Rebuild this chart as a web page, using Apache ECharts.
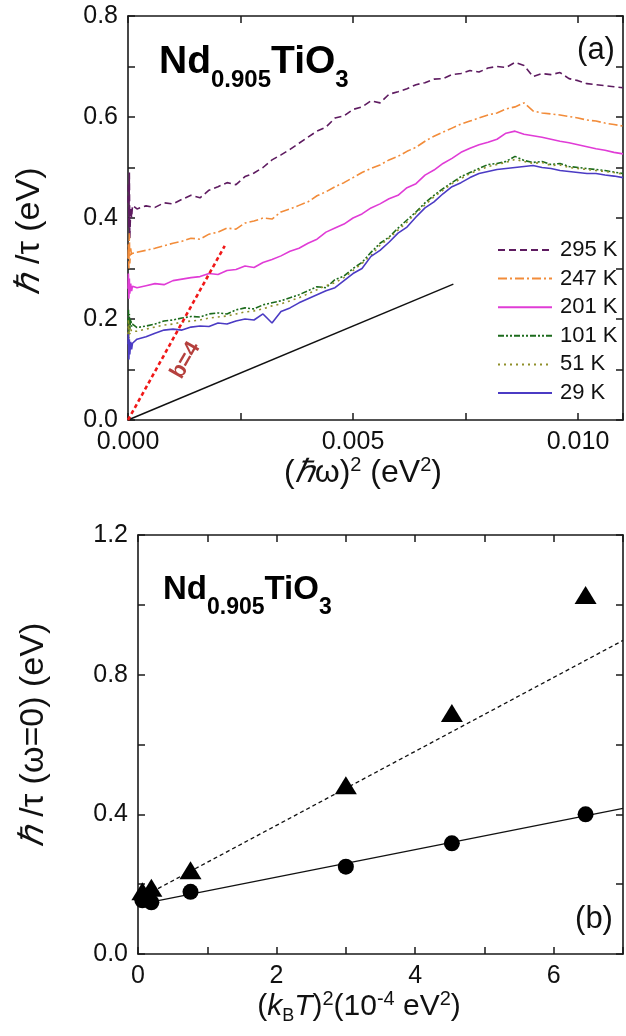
<!DOCTYPE html>
<html>
<head>
<meta charset="utf-8">
<script src="https://cdn.jsdelivr.net/npm/echarts@6/dist/echarts.min.js"></script>
<style>
html, body { margin: 0; padding: 0; background: #fff; }
#chart { width: 626px; height: 1036px; }
</style>
</head>
<body>
<div id="chart"></div>
<script>
// ---- panel (a): scattering rate vs (hbar*omega)^2 ----
const omega2 = [
    0, 0.00001, 0.00002, 0.00003, 0.00004, 0.00006, 0.00008, 0.0001,
    0.0002, 0.0004, 0.0006, 0.0008, 0.0010, 0.0012, 0.0014, 0.0016, 0.0018, 0.0020,
    0.0022, 0.0024, 0.0026, 0.0028, 0.0030, 0.0032, 0.0034, 0.0036, 0.0038, 0.0040,
    0.0042, 0.0044, 0.0046, 0.0048, 0.0050, 0.0052, 0.0054, 0.0056, 0.0058, 0.0060,
    0.0062, 0.0064, 0.0066, 0.0068, 0.0070, 0.0072, 0.0074, 0.0076, 0.0078, 0.0080,
    0.0082, 0.0084, 0.0086, 0.0088, 0.0090, 0.0092, 0.0094, 0.0096, 0.0098, 0.0100,
    0.0102, 0.0104, 0.0106, 0.0108, 0.0110
];

const rate295 = [
    0.43, 0.47, 0.38, 0.49, 0.36, 0.42, 0.40, 0.425,
    0.418, 0.424, 0.421, 0.430, 0.428, 0.437, 0.445, 0.440, 0.455, 0.462,
    0.470, 0.466, 0.482, 0.489, 0.500, 0.515, 0.525, 0.536, 0.548, 0.560,
    0.572, 0.580, 0.598, 0.602, 0.615, 0.620, 0.632, 0.628, 0.645, 0.650,
    0.656, 0.664, 0.668, 0.675, 0.676, 0.684, 0.686, 0.692, 0.689, 0.697,
    0.700, 0.698, 0.708, 0.702, 0.680, 0.686, 0.684, 0.688, 0.676, 0.672,
    0.666, 0.664, 0.662, 0.660, 0.658
];
const rate247 = [
    0.32, 0.35, 0.30, 0.37, 0.31, 0.34, 0.325, 0.33,
    0.332, 0.336, 0.340, 0.345, 0.350, 0.354, 0.360, 0.358, 0.368, 0.372,
    0.380, 0.378, 0.390, 0.394, 0.400, 0.398, 0.412, 0.418, 0.425, 0.432,
    0.444, 0.452, 0.462, 0.470, 0.480, 0.490, 0.498, 0.505, 0.515, 0.522,
    0.532, 0.540, 0.552, 0.562, 0.570, 0.578, 0.586, 0.592, 0.598, 0.604,
    0.608, 0.616, 0.620, 0.628, 0.612, 0.608, 0.606, 0.604, 0.601, 0.598,
    0.594, 0.592, 0.588, 0.585, 0.582
];
const rate201 = [
    0.26, 0.29, 0.24, 0.28, 0.25, 0.27, 0.255, 0.265,
    0.262, 0.266, 0.270, 0.268, 0.276, 0.279, 0.282, 0.284, 0.290, 0.288,
    0.296, 0.298, 0.305, 0.302, 0.312, 0.318, 0.325, 0.334, 0.340, 0.350,
    0.358, 0.372, 0.380, 0.388, 0.400, 0.408, 0.420, 0.428, 0.438, 0.445,
    0.460, 0.468, 0.485, 0.495, 0.508, 0.518, 0.530, 0.538, 0.545, 0.550,
    0.556, 0.568, 0.572, 0.566, 0.563, 0.560, 0.556, 0.552, 0.549, 0.545,
    0.541, 0.537, 0.534, 0.530, 0.527
];
const rate101 = [
    0.19, 0.22, 0.17, 0.21, 0.18, 0.20, 0.185, 0.19,
    0.183, 0.186, 0.190, 0.196, 0.198, 0.202, 0.205, 0.204, 0.210, 0.212,
    0.210, 0.218, 0.222, 0.220, 0.228, 0.232, 0.236, 0.242, 0.248, 0.256,
    0.264, 0.262, 0.278, 0.285, 0.300, 0.312, 0.332, 0.350, 0.362, 0.380,
    0.396, 0.412, 0.430, 0.445, 0.458, 0.470, 0.482, 0.490, 0.498, 0.506,
    0.508, 0.512, 0.522, 0.514, 0.510, 0.512, 0.506, 0.508, 0.502, 0.500,
    0.498, 0.496, 0.494, 0.491, 0.488
];
const rate51 = [
    0.17, 0.20, 0.16, 0.19, 0.17, 0.18, 0.175, 0.178,
    0.176, 0.180, 0.184, 0.188, 0.190, 0.194, 0.196, 0.198, 0.202, 0.204,
    0.206, 0.210, 0.214, 0.216, 0.220, 0.226, 0.230, 0.236, 0.242, 0.250,
    0.258, 0.266, 0.272, 0.282, 0.296, 0.310, 0.326, 0.346, 0.360, 0.376,
    0.392, 0.410, 0.426, 0.442, 0.455, 0.468, 0.478, 0.488, 0.495, 0.502,
    0.506, 0.510, 0.516, 0.512, 0.508, 0.510, 0.504, 0.505, 0.500, 0.498,
    0.496, 0.494, 0.492, 0.490, 0.487
];
const rate29 = [
    0.15, 0.17, 0.12, 0.16, 0.13, 0.155, 0.14, 0.152,
    0.160, 0.165, 0.172, 0.178, 0.180, 0.178, 0.184, 0.186, 0.185, 0.192,
    0.190, 0.196, 0.200, 0.198, 0.210, 0.192, 0.215, 0.222, 0.232, 0.240,
    0.248, 0.256, 0.262, 0.276, 0.290, 0.300, 0.324, 0.336, 0.352, 0.370,
    0.382, 0.402, 0.420, 0.432, 0.448, 0.462, 0.470, 0.480, 0.488, 0.492,
    0.496, 0.498, 0.500, 0.502, 0.504, 0.500, 0.498, 0.494, 0.492, 0.490,
    0.488, 0.488, 0.485, 0.483, 0.480
];

const tempNames = ['295 K', '247 K', '201 K', '101 K', '51 K', '29 K'];
const tempColors = ['#5e1b60', '#f28c3a', '#e03cd6', '#1c6b1c', '#8f8f2a', '#4b3bc4'];
const tempDashes = [[7, 4], [9, 3, 2, 3], 'solid', [6, 2, 2, 2, 2, 2], [2, 4], 'solid'];
const tempRates = [rate295, rate247, rate201, rate101, rate51, rate29];

const squareLawLine = [[0, 0], [0.00723, 0.269]];
const b4Line = [[0, 0], [0.00215, 0.345]];
const b4LabelAt = [[0.00128, 0.118]];

// ---- panel (b): zero-frequency rate vs (kB T)^2 ----
const kT2 = [0.063, 0.193, 0.758, 3.0, 4.53, 6.46];
const rateTriangles = [0.18, 0.19, 0.24, 0.483, 0.69, 1.028];
const rateCircles = [0.154, 0.148, 0.178, 0.25, 0.317, 0.40];
const fitTriangles = [[0.2, 0.178], [7.0, 0.898]];
const fitCircles = [[0.2, 0.149], [7.0, 0.417]];

const FONT = '"Liberation Sans", Arial, sans-serif';
const AXIS_COLOR = '#1a1a1a';

function isMultiple(v, step) {
    const r = v / step;
    return Math.abs(r - Math.round(r)) < 1e-6;
}

function mkAxis(gridIndex, position, min, max, interval, labelStep, digits, showLabel) {
    return {
        type: 'value',
        gridIndex: gridIndex,
        position: position,
        min: min,
        max: max,
        interval: interval,
        axisLine: { show: true, onZero: false, lineStyle: { color: AXIS_COLOR, width: 1.6 } },
        axisTick: { show: true, inside: true, length: 7, lineStyle: { color: AXIS_COLOR, width: 1.5 } },
        axisLabel: {
            show: showLabel,
            fontSize: 25,
            fontFamily: FONT,
            color: '#111',
            margin: 10,
            formatter: v => isMultiple(v, labelStep) ? v.toFixed(digits) : ''
        },
        splitLine: { show: false }
    };
}

const tempSeries = tempNames.map((name, k) => ({
    name: name,
    type: 'line',
    xAxisIndex: 0,
    yAxisIndex: 0,
    data: omega2.map((x, i) => [x, tempRates[k][i]]),
    symbol: 'none',
    lineStyle: { color: tempColors[k], width: 1.6, type: tempDashes[k] },
    itemStyle: { color: tempColors[k] },
    z: 3 + (k === 5 ? 1 : 0)
}));

const supStyle = { fontSize: 20, lineHeight: 20, verticalAlign: 'top', fontFamily: FONT, fill: '#111' };
const subStyle = { fontSize: 18, lineHeight: 18, verticalAlign: 'bottom', fontFamily: FONT, fill: '#111' };

function formulaText(x, y, mainSize, subSize) {
    return {
        type: 'text',
        x: x,
        y: y,
        style: {
            text: '{m|Nd}{s|0.905}{m|TiO}{s|3}',
            align: 'left',
            verticalAlign: 'top',
            rich: {
                m: { fontSize: mainSize, fontWeight: 'bold', fontFamily: FONT, lineHeight: 59, fill: '#000' },
                s: { fontSize: subSize, fontWeight: 'bold', fontFamily: FONT, lineHeight: subSize, verticalAlign: 'bottom', fill: '#000' }
            }
        }
    };
}

function axisTitle(x, y, text, size, rotated) {
    return {
        type: 'text',
        x: x,
        y: y,
        rotation: rotated ? Math.PI / 2 : 0,
        style: {
            text: text,
            fontSize: size,
            fontFamily: FONT,
            fill: '#111',
            lineHeight: 36,
            align: 'center',
            verticalAlign: 'middle',
            rich: {
                i: { fontSize: size, fontStyle: 'italic', fontFamily: FONT, lineHeight: 36, fill: '#111' },
                sup: supStyle,
                sub: subStyle
            }
        }
    };
}

const option = {
    animation: false,
    backgroundColor: '#fff',
    grid: [
        { left: 128, top: 16, width: 504, height: 404 },
        { left: 138, top: 535, width: 490, height: 419 }
    ],
    xAxis: [
        mkAxis(0, 'bottom', 0, 0.011, 0.0025, 0.005, 3, true),
        mkAxis(0, 'top', 0, 0.011, 0.0025, 0.005, 3, false),
        mkAxis(1, 'bottom', 0, 7, 1, 2, 0, true),
        mkAxis(1, 'top', 0, 7, 1, 2, 0, false)
    ],
    yAxis: [
        mkAxis(0, 'left', 0, 0.8, 0.1, 0.2, 1, true),
        mkAxis(0, 'right', 0, 0.8, 0.1, 0.2, 1, false),
        mkAxis(1, 'left', 0, 1.2, 0.2, 0.4, 1, true),
        mkAxis(1, 'right', 0, 1.2, 0.2, 0.4, 1, false)
    ],
    legend: {
        data: tempNames,
        orient: 'vertical',
        left: 492,
        top: 234,
        itemWidth: 54,
        itemHeight: 10,
        itemGap: 6.6,
        itemStyle: { opacity: 0 },
        textStyle: { fontSize: 22, lineHeight: 22, fontFamily: FONT, color: '#111', padding: [0, 0, 0, 3] }
    },
    graphic: [
        formulaText(159, 33, 39, 24),
        formulaText(163, 560, 33, 23),
        { type: 'text', x: 596, y: 50, style: { text: '(a)', fontSize: 31, fontFamily: FONT, fill: '#111', align: 'center', verticalAlign: 'middle' } },
        { type: 'text', x: 594, y: 919, style: { text: '(b)', fontSize: 31, fontFamily: FONT, fill: '#111', align: 'center', verticalAlign: 'middle' } },
        axisTitle(30, 231, '{i|ℏ} /τ (eV)', 34, true),
        axisTitle(34, 735, '{i|ℏ} /τ (ω=0) (eV)', 34, true),
        axisTitle(363, 473, '({i|ℏ}ω){sup|2} (eV{sup|2})', 32, false),
        axisTitle(359, 1007, '({i|k}{sub|B}{i|T}){sup|2}(10{sup|-4} eV{sup|2})', 30, false)
    ],
    series: tempSeries.concat([
        {
            name: 'square law',
            type: 'line',
            xAxisIndex: 0,
            yAxisIndex: 0,
            data: squareLawLine,
            symbol: 'none',
            lineStyle: { color: '#111', width: 1.5 },
            z: 2
        },
        {
            name: 'b=4',
            type: 'line',
            xAxisIndex: 0,
            yAxisIndex: 0,
            data: b4Line,
            symbol: 'none',
            lineStyle: { color: '#f01818', width: 2.6, type: [4, 3] },
            z: 5
        },
        {
            name: 'b=4 label',
            type: 'scatter',
            xAxisIndex: 0,
            yAxisIndex: 0,
            data: b4LabelAt,
            symbolSize: 0,
            label: {
                show: true,
                position: 'inside',
                formatter: 'b=4',
                rotate: 60,
                fontSize: 22,
                fontWeight: 'bold',
                fontFamily: FONT,
                color: '#a3100c'
            },
            z: 6
        },
        {
            name: 'fit triangles',
            type: 'line',
            xAxisIndex: 2,
            yAxisIndex: 2,
            data: fitTriangles,
            symbol: 'none',
            lineStyle: { color: '#111', width: 1.3, type: [4, 3] },
            z: 2
        },
        {
            name: 'fit circles',
            type: 'line',
            xAxisIndex: 2,
            yAxisIndex: 2,
            data: fitCircles,
            symbol: 'none',
            lineStyle: { color: '#111', width: 1.3 },
            z: 2
        },
        {
            name: 'triangles',
            type: 'scatter',
            xAxisIndex: 2,
            yAxisIndex: 2,
            data: kT2.map((x, i) => [x, rateTriangles[i]]),
            symbol: 'triangle',
            symbolSize: [22, 18],
            itemStyle: { color: '#000', opacity: 1 },
            z: 4
        },
        {
            name: 'circles',
            type: 'scatter',
            xAxisIndex: 2,
            yAxisIndex: 2,
            data: kT2.map((x, i) => [x, rateCircles[i]]),
            symbol: 'circle',
            symbolSize: 16,
            itemStyle: { color: '#000', opacity: 1 },
            z: 4
        }
    ])
};

const chart = echarts.init(document.getElementById('chart'));
chart.setOption(option);
</script>
</body>
</html>
